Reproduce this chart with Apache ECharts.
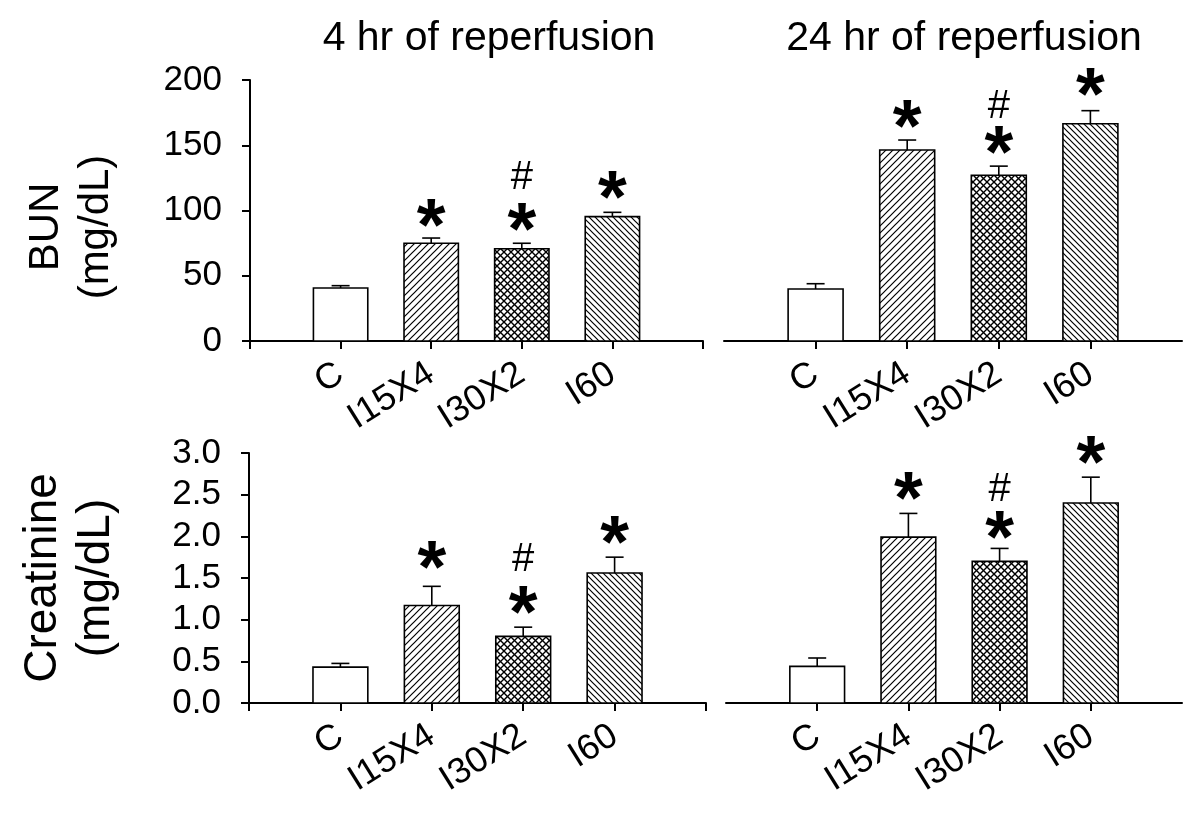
<!DOCTYPE html>
<html>
<head>
<meta charset="utf-8">
<script src="https://cdn.jsdelivr.net/npm/echarts@6/dist/echarts.min.js"></script>
<style>
  html, body { margin: 0; padding: 0; background: #fff; }
  #chart { width: 1200px; height: 814px; }
</style>
</head>
<body>
<div id="chart"></div>
<script>
// ---- data ----
const categories = ['C', 'I15X4', 'I30X2', 'I60'];
const panelTitles = ['4 hr of reperfusion', '24 hr of reperfusion'];
const bunTicks = [0, 50, 100, 150, 200];
const creTicks = [0.0, 0.5, 1.0, 1.5, 2.0, 2.5, 3.0];

const bun4Mean = [40.6, 74.9, 70.7, 95.3];
const bun4Err = [1.8, 4.0, 4.2, 3.3];
const bun24Mean = [39.8, 146.4, 127.0, 166.5];
const bun24Err = [4.1, 7.6, 7.0, 10.0];
const cre4Mean = [0.43, 1.17, 0.80, 1.56];
const cre4Err = [0.045, 0.23, 0.11, 0.19];
const cre24Mean = [0.44, 1.99, 1.70, 2.40];
const cre24Err = [0.10, 0.285, 0.155, 0.31];

// significance marks: y-position (data units) of '*' and '#'
const bun4Star = [null, 96.5, 93.5, 118];
const bun4Hash = [null, null, 125, null];
const bun24Star = [null, 173, 152.7, 197.5];
const bun24Hash = [null, null, 179.5, null];
const cre4Star = [null, 1.755, 1.216, 2.056];
const cre4Hash = [null, null, 1.716, null];
const cre24Star = [null, 2.58, 2.12, 3.02];
const cre24Hash = [null, null, 2.56, null];

// ---- patterns ----
const FONT = '"Liberation Sans", Arial, Helvetica, sans-serif';
function makePattern(kind) {
  const s = kind === 'back' ? 6 : 7;
  const c = document.createElement('canvas');
  c.width = s; c.height = s;
  const ctx = c.getContext('2d');
  ctx.fillStyle = '#fff';
  ctx.fillRect(0, 0, s, s);
  ctx.strokeStyle = '#000';
  ctx.lineWidth = kind === 'cross' ? 1.4 : 1.2;
  function fwd() {
    ctx.beginPath();
    ctx.moveTo(-1, s + 1); ctx.lineTo(s + 1, -1);
    ctx.moveTo(-1, 1); ctx.lineTo(1, -1);
    ctx.moveTo(s - 1, s + 1); ctx.lineTo(s + 1, s - 1);
    ctx.stroke();
  }
  function back() {
    ctx.beginPath();
    ctx.moveTo(-1, -1); ctx.lineTo(s + 1, s + 1);
    ctx.moveTo(s - 1, -1); ctx.lineTo(s + 1, 1);
    ctx.moveTo(-1, s - 1); ctx.lineTo(1, s + 1);
    ctx.stroke();
  }
  if (kind === 'fwd') fwd();
  if (kind === 'back') back();
  if (kind === 'cross') { fwd(); back(); }
  return { image: c, repeat: 'repeat' };
}
const fills = ['#fff', makePattern('fwd'), makePattern('cross'), makePattern('back')];

// ---- layout ----
const grids = [
  { left: 250, top: 80, width: 453, height: 261 },
  { left: 724, top: 80, width: 458, height: 261 },
  { left: 249, top: 453, width: 457, height: 250 },
  { left: 726, top: 453, width: 456, height: 250 }
];

function barData(mean, err) {
  return categories.map((c, i) => [i + 1, mean[i], err[i], i]);
}
function markData(star, hash) {
  const out = [];
  categories.forEach((c, i) => {
    if (star[i] != null) out.push([i + 1, star[i], 0]);
    if (hash[i] != null) out.push([i + 1, hash[i], 1]);
  });
  return out;
}

function renderBar(params, api) {
  const x = api.value(0), m = api.value(1), e = api.value(2), k = api.value(3);
  const p0 = api.coord([x, 0]);
  const p1 = api.coord([x, m]);
  const p2 = api.coord([x, m + e]);
  const w = api.size([0.6, 0])[0];
  return {
    type: 'group',
    children: [
      { type: 'line', shape: { x1: p0[0], y1: p1[1], x2: p0[0], y2: p2[1] }, style: { stroke: '#000', lineWidth: 1.6 } },
      { type: 'line', shape: { x1: p0[0] - 9, y1: p2[1], x2: p0[0] + 9, y2: p2[1] }, style: { stroke: '#000', lineWidth: 1.6 } },
      { type: 'rect', shape: { x: p0[0] - w / 2, y: p1[1], width: w, height: p0[1] - p1[1] }, style: { fill: fills[k], stroke: '#000', lineWidth: 1.6 } }
    ]
  };
}
function renderMark(params, api) {
  const x = api.value(0), y = api.value(1), t = api.value(2);
  const p = api.coord([x, y]);
  if (t === 0) {
    return { type: 'text', x: p[0], y: p[1] + 15, style: { text: '*', font: 'bold 74px ' + FONT, align: 'center', verticalAlign: 'middle', fill: '#000' } };
  }
  return { type: 'text', x: p[0], y: p[1], style: { text: '#', font: '40px ' + FONT, align: 'center', verticalAlign: 'middle', fill: '#000' } };
}

const axisLineStyle = { color: '#000', width: 2 };
function xAxisDef(i) {
  const tick = { show: true, length: 8, lineStyle: axisLineStyle };
  if (i === 1 || i === 3) tick.customValues = [1, 2, 3, 4];
  return {
    type: 'value', gridIndex: i, min: 0, max: 5, interval: 1, position: 'bottom',
    axisLine: { show: true, onZero: false, lineStyle: axisLineStyle },
    axisTick: tick,
    splitLine: { show: false },
    axisLabel: {
      show: true, rotate: 32, margin: 30, fontSize: 36, color: '#000', fontFamily: FONT,
      formatter: v => categories[v - 1] || ''
    }
  };
}
function yAxisDef(i, ticks, dec) {
  const visible = (i === 0 || i === 2);
  return {
    type: 'value', gridIndex: i, min: ticks[0], max: ticks[ticks.length - 1],
    interval: ticks[1] - ticks[0], show: visible,
    axisLine: { show: true, lineStyle: axisLineStyle },
    axisTick: { show: true, length: 8, lineStyle: axisLineStyle },
    splitLine: { show: false },
    axisLabel: { show: true, margin: 28, fontSize: 35, color: '#000', fontFamily: FONT,
      formatter: v => v.toFixed(dec) }
  };
}

const panels = [
  [bun4Mean, bun4Err, bun4Star, bun4Hash],
  [bun24Mean, bun24Err, bun24Star, bun24Hash],
  [cre4Mean, cre4Err, cre4Star, cre4Hash],
  [cre24Mean, cre24Err, cre24Star, cre24Hash]
];

const series = [];
panels.forEach((p, i) => {
  series.push({ type: 'custom', xAxisIndex: i, yAxisIndex: i, renderItem: renderBar, data: barData(p[0], p[1]), clip: false, silent: true });
  series.push({ type: 'custom', xAxisIndex: i, yAxisIndex: i, renderItem: renderMark, data: markData(p[2], p[3]), clip: false, silent: true });
});

const chart = echarts.init(document.getElementById('chart'), null, { renderer: 'canvas' });
chart.setOption({
  animation: false,
  backgroundColor: '#fff',
  grid: grids.map(g => Object.assign({ containLabel: false }, g)),
  xAxis: [0, 1, 2, 3].map(xAxisDef),
  yAxis: [yAxisDef(0, bunTicks, 0), yAxisDef(1, bunTicks, 0), yAxisDef(2, creTicks, 1), yAxisDef(3, creTicks, 1)],
  graphic: [
    { type: 'text', x: 489, y: 39, style: { text: panelTitles[0], font: '41px ' + FONT, align: 'center', verticalAlign: 'middle', fill: '#000' } },
    { type: 'text', x: 964, y: 39, style: { text: panelTitles[1], font: '41px ' + FONT, align: 'center', verticalAlign: 'middle', fill: '#000' } },
    { type: 'text', x: 71, y: 227, rotation: Math.PI / 2, style: { text: 'BUN\n(mg/dL)', font: '42px ' + FONT, lineHeight: 50, align: 'center', verticalAlign: 'middle', fill: '#000' } },
    { type: 'text', x: 70, y: 578, rotation: Math.PI / 2, style: { text: 'Creatinine\n(mg/dL)', font: '46px ' + FONT, lineHeight: 53, align: 'center', verticalAlign: 'middle', fill: '#000' } }
  ],
  series: series
});
</script>
</body>
</html>
